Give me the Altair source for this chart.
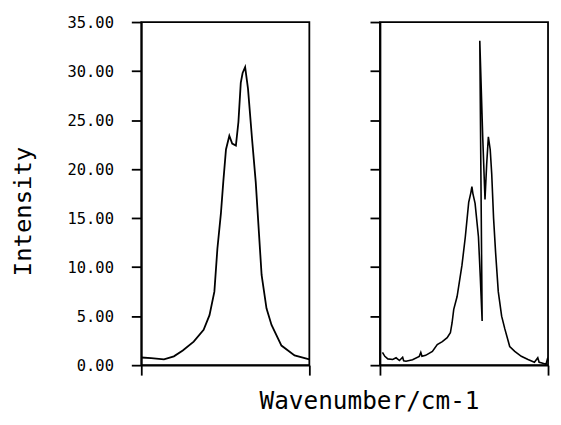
import altair as alt
import pandas as pd

# ---- data (arbitrary wavenumber units 0..100 per panel) ----
left_x = [0, 5.9, 13.5, 19.4, 24.7, 31.2, 37.1, 40.6, 43.5, 45.3,
          47.4, 48.8, 50.4, 52.4, 54.1, 56.3, 57.8, 59.2, 60.3, 61.8,
          63.5, 65.9, 68.1, 70.6, 71.6, 74.5, 77.5, 83.4, 91.2, 100]
left_y = [0.78, 0.72, 0.6, 0.9, 1.5, 2.4, 3.6, 5.1, 7.5, 11.9,
          15.5, 18.7, 22.0, 23.4, 22.6, 22.4, 24.8, 28.8, 29.8, 30.4,
          28.2, 23.1, 18.7, 11.9, 9.2, 5.8, 4.1, 2.0, 1.0, 0.6]

right_x = [1.5, 2.9, 4.7, 7.6, 9.6, 11.6, 13.5, 14.1, 15.5, 19.4,
           23.4, 24.3, 25.0, 27.2, 31.2, 34.1, 37.1, 40.0, 41.9, 42.9,
           43.9, 45.9, 48.8, 50.8, 52.8, 54.1, 54.7, 55.3, 56.6, 58.6,
           59.7, 60.8, 59.4, 61.2, 62.5, 63.5, 64.5, 65.6, 66.5, 67.6,
           68.8, 70.4, 72.4, 74.3, 77.2, 80.2, 84.1, 88.1, 91.9, 93.9,
           94.7, 95.9, 98.8, 99.6, 100]
right_y = [1.3, 0.9, 0.64, 0.58, 0.75, 0.47, 0.8, 0.45, 0.4, 0.55,
           0.9, 1.3, 0.9, 1.0, 1.4, 2.1, 2.4, 2.8, 3.3, 4.3,
           5.7, 7.0, 10.2, 13.1, 16.6, 17.6, 18.2, 17.5, 16.5, 13.1,
           9.0, 4.5, 33.1, 23.0, 16.9, 20.5, 23.3, 22.0, 19.5, 15.0,
           11.5, 7.5, 5.0, 3.7, 1.9, 1.4, 0.9, 0.58, 0.3, 0.75,
           0.3, 0.25, 0.1, 0.6, 0.4]

y_ticks = [0, 5, 10, 15, 20, 25, 30, 35]
x_ends = [0, 100]

FONT = "DejaVu Sans Mono"

left_df = pd.DataFrame({"w": left_x, "I": left_y, "i": list(range(len(left_x)))})
right_df = pd.DataFrame({"w": right_x, "I": right_y, "i": list(range(len(right_x)))})

x_scale = alt.Scale(domain=[0, 100], nice=False, zero=False)
y_scale = alt.Scale(domain=[0, 35], nice=False)

W, H = 169, 345

left = alt.Chart(left_df).mark_line(color="black", strokeWidth=1.8).encode(
    x=alt.X("w:Q", scale=x_scale,
            axis=alt.Axis(values=x_ends, labels=False, tickSize=10,
                          title="Wavenumber/cm-1", titleX=229, titleY=44,
                          titleAlign="center", titleBaseline="alphabetic",
                          titleFont=FONT, titleFontSize=24.5, titleFontWeight="normal",
                          titleColor="black")),
    y=alt.Y("I:Q", scale=y_scale,
            axis=alt.Axis(values=y_ticks, format=".2f", tickSize=10, labelPadding=18,
                          labelFont=FONT, labelFontSize=15.5, labelColor="black",
                          title="Intensity", titleX=-118, titleY=190, titleAngle=270,
                          titleAlign="center", titleBaseline="middle",
                          titleFont=FONT, titleFontSize=24, titleFontWeight="normal",
                          titleColor="black")),
    order="i:Q",
).properties(width=W, height=H)

right = alt.Chart(right_df).mark_line(color="black", strokeWidth=1.6).encode(
    x=alt.X("w:Q", scale=x_scale,
            axis=alt.Axis(values=x_ends, labels=False, tickSize=10, title=None)),
    y=alt.Y("I:Q", scale=y_scale,
            axis=alt.Axis(values=y_ticks, labels=False, tickSize=10, title=None)),
    order="i:Q",
).properties(width=W, height=H)

chart = alt.hconcat(left, right, spacing=71, bounds="flush").properties(
    padding={"left": 3, "top": 5, "right": 0, "bottom": 0},
    background="white",
).configure_view(
    stroke="black", strokeWidth=1.8
).configure_axis(
    grid=False, domainColor="black", domainWidth=1.8,
    tickColor="black", tickWidth=1.8,
)

chart.save("out.html", embed_options={"renderer": "svg", "actions": False})
